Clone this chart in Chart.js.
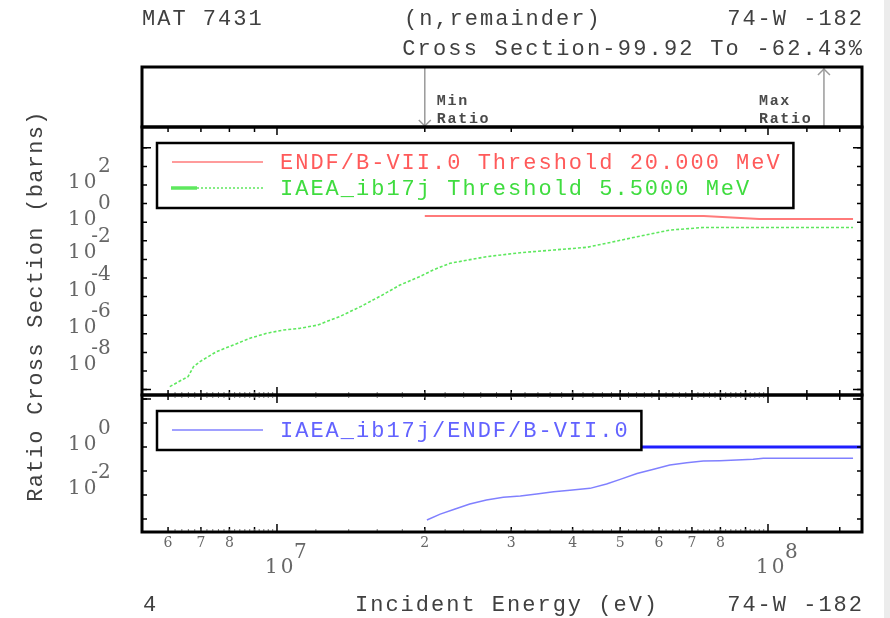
<!DOCTYPE html>
<html>
<head>
<meta charset="utf-8">
<title>74-W-182 (n,remainder)</title>
<script src="https://cdn.jsdelivr.net/npm/chart.js@4.4.1/dist/chart.umd.min.js"></script>
<style>
html, body { margin: 0; padding: 0; background: #fff; }
#wrap { position: relative; width: 890px; height: 618px; overflow: hidden; }
#wrap canvas { position: absolute; left: 0; top: 0; }
#edge { position: absolute; left: 884px; top: 0; width: 6px; height: 618px; background: #ececec; }
</style>
</head>
<body>
<div id="wrap">
  <canvas id="boxChart" width="890" height="618"></canvas>
  <canvas id="xsChart" width="890" height="618"></canvas>
  <canvas id="ratioChart" width="890" height="618"></canvas>
  <div id="edge"></div>
</div>
<script>
// Data (energies in eV, cross sections in barns)
const endfE  = [2.0e7, 7.4e7, 9.6e7, 1.49e8];
const endfXs = [2.15, 2.15, 1.5, 1.5];

const iaeaE  = [6.05e6, 6.40e6, 6.59e6, 6.76e6, 6.97e6, 7.53e6, 8.15e6, 8.81e6, 9.53e6,
                1.03e7, 1.11e7, 1.21e7, 1.26e7, 1.34e7, 1.48e7, 1.64e7, 1.78e7, 1.95e7,
                2.08e7, 2.25e7, 2.67e7, 3.13e7, 3.66e7, 4.28e7, 4.69e7, 5.41e7, 6.31e7,
                7.38e7, 1.49e8];
const iaeaXs = [1.45e-9, 3.3e-9, 5.0e-9, 1.7e-8, 3.2e-8, 1.1e-7, 2.5e-7, 5.8e-7, 1.07e-6,
                1.6e-6, 1.95e-6, 2.95e-6, 4.5e-6, 8.3e-6, 2.9e-5, 1.23e-4, 4.2e-4, 1.17e-3,
                2.7e-3, 6.2e-3, 1.4e-2, 2.3e-2, 3.2e-2, 4.5e-2, 7.4e-2, 0.166, 0.38,
                0.52, 0.52];

const ratioE = [2.02e7, 2.15e7, 2.29e7, 2.47e7, 2.67e7, 2.89e7, 3.13e7, 3.38e7, 3.66e7,
                3.95e7, 4.34e7, 4.69e7, 5.0e7, 5.41e7, 5.85e7, 6.31e7, 6.83e7, 7.38e7,
                7.98e7, 9.33e7, 9.78e7, 1.49e8];
const ratioV = [9.1e-4, 1.6e-3, 2.5e-3, 4.2e-3, 6.2e-3, 8.0e-3, 9.1e-3, 1.1e-2, 1.38e-2,
                1.6e-2, 1.9e-2, 2.9e-2, 4.5e-2, 7.9e-2, 0.12, 0.178, 0.22, 0.26,
                0.27, 0.31, 0.34, 0.34];

const unityE = [2.0e7, 1.554e8];
const unityV = [1, 1];

const minRatioE = 2.0e7;
const maxRatioE = 1.3e8;

const xsNames = ['ENDF/B-VII.0 Threshold 20.000 MeV', 'IAEA_ib17j Threshold 5.5000 MeV'];
const ratioNames = ['IAEA_ib17j/ENDF/B-VII.0'];

// Axes
const xMin = 5.31e6, xMax = 1.554e8;
const xsMin = 5.13e-10, xsMax = 1.318e5;
const ratioMin = 2.88e-4, ratioMax = 147.9;

const xMajor = [1e7, 1e8];
const xMinor = [6e6, 7e6, 8e6, 9e6, 2e7, 3e7, 4e7, 5e7, 6e7, 7e7, 8e7, 9e7, 1.2e8, 1.4e8];
const xDigitVals = [6e6, 7e6, 8e6, 2e7, 3e7, 4e7, 5e7, 6e7, 7e7, 8e7];
const xDigitText = ['6', '7', '8', '2', '3', '4', '5', '6', '7', '8'];
const xDecadeVals = [1e7, 1e8];
const xDecadeExp = ['7', '8'];

const xsDecades = [-9, -8, -7, -6, -5, -4, -3, -2, -1, 0, 1, 2, 3, 4];
const xsMajorExp = [4, -9];
const xsLabelExp = [2, 0, -2, -4, -6, -8];
const ratioDecades = [-3, -2, -1, 0, 1, 2];
const ratioMajorExp = [2];
const ratioLabelExp = [0, -2];

// small grid ticks along the energy axis
const xDense = [];
for (let e = 6.2e6; e < 9.9e6; e += 2e5) xDense.push(e);
for (let e = 1.2e7; e < 9.9e7; e += 2e6) xDense.push(e);

// Styling
const MONO = '"Liberation Mono", "DejaVu Sans Mono", monospace';
const NUMF = '"DejaVu Serif", "Liberation Serif", serif';
const CH = 15.2;
const RED = '#ff7a7a', RED_TXT = '#ff5a5a';
const GREEN = '#5ee85e', GREEN_TXT = '#3fdc3f';
const BLUE = '#8080ff', BLUE_TXT = '#6262ff', BLUE_DARK = '#1f1fff';

const pts = (xs, ys) => xs.map((x, i) => ({ x, y: ys[i] }));

// Helpers
const text = (ctx, s, x, y, o = {}) => {
    const ls = o.ls != null ? o.ls : 2;
    ctx.save();
    ctx.font = o.font || ('22px ' + MONO);
    ctx.fillStyle = o.color || '#404040';
    ctx.letterSpacing = ls + 'px';
    ctx.textAlign = o.align || 'left';
    ctx.textBaseline = 'alphabetic';
    ctx.fillText(s, x + (o.align === 'right' ? ls : 0), y);
    ctx.restore();
};

const tickX = (ctx, sx, vals, yEdge, dir, len) => {
    vals.forEach(v => {
        const px = sx.getPixelForValue(v);
        ctx.beginPath();
        ctx.moveTo(px, yEdge);
        ctx.lineTo(px, yEdge + dir * len);
        ctx.stroke();
    });
};

const tickY = (ctx, sy, exps, a, len) => {
    exps.forEach(p => {
        const py = sy.getPixelForValue(Math.pow(10, p));
        ctx.beginPath();
        ctx.moveTo(a.left, py); ctx.lineTo(a.left + len, py);
        ctx.moveTo(a.right, py); ctx.lineTo(a.right - len, py);
        ctx.stroke();
    });
};

const powLabelY = (ctx, sy, exp) => {
    const py = sy.getPixelForValue(Math.pow(10, exp));
    const base = py - (exp < 0 ? 8 : 4) + 7;
    ctx.save();
    ctx.font = '20px ' + NUMF;
    ctx.fillStyle = '#666';
    ctx.textBaseline = 'alphabetic';
    ctx.letterSpacing = '3px';
    ctx.textAlign = 'left';
    ctx.fillText('10', 68, base);
    ctx.letterSpacing = '0px';
    ctx.fillText(String(Math.abs(exp)), 98, base - 16);
    if (exp < 0) {
        ctx.textAlign = 'right';
        ctx.fillText('-', 98, base - 16);
    }
    ctx.restore();
};

const frame = (ctx, a) => {
    ctx.save();
    ctx.strokeStyle = '#000';
    ctx.lineWidth = 3;
    ctx.strokeRect(a.left, a.top, a.right - a.left, a.bottom - a.top);
    ctx.restore();
};

const drawLegend = (ctx, a, rows, rowGap, padTop, padBottom) => {
    const left = a.left + 15, top = a.top + 16;
    const textX = left + 123;
    const maxLen = Math.max(...rows.map(r => r.label.length));
    const right = textX + (maxLen - 1) * CH + 11 + 16;
    const h = padTop + (rows.length - 1) * rowGap + padBottom;
    ctx.save();
    ctx.fillStyle = '#fff';
    ctx.fillRect(left, top, right - left, h);
    rows.forEach((r, i) => {
        const yy = top + padTop + i * rowGap;
        ctx.strokeStyle = r.color;
        if (r.thick) {
            ctx.lineWidth = 3.5;
            ctx.setLineDash([]);
            ctx.beginPath(); ctx.moveTo(left + 14, yy); ctx.lineTo(left + 40, yy); ctx.stroke();
            ctx.lineWidth = 1.5;
            ctx.setLineDash([2, 2]);
            ctx.beginPath(); ctx.moveTo(left + 40, yy); ctx.lineTo(left + 106, yy); ctx.stroke();
        } else {
            ctx.lineWidth = 1.5;
            ctx.setLineDash([]);
            ctx.beginPath(); ctx.moveTo(left + 15, yy); ctx.lineTo(left + 106, yy); ctx.stroke();
        }
        ctx.setLineDash([]);
        text(ctx, r.label, textX, yy + 7, { color: r.text, ls: 2 });
    });
    ctx.strokeStyle = '#000';
    ctx.lineWidth = 2.5;
    ctx.strokeRect(left, top, right - left, h);
    ctx.restore();
};

const baseOptions = (padding, y) => ({
    responsive: false,
    animation: false,
    events: [],
    layout: { padding },
    plugins: { legend: { display: false }, tooltip: { enabled: false } },
    scales: {
        x: { type: 'logarithmic', min: xMin, max: xMax, display: false },
        y
    }
});

// Top box: energies of minimum and maximum ratio
const arrowPlugin = {
    id: 'arrows',
    afterDatasetsDraw(chart) {
        const { ctx, chartArea: a, scales: { x } } = chart;
        const xa = x.getPixelForValue(minRatioE);
        const xb = x.getPixelForValue(maxRatioE);
        ctx.save();
        ctx.strokeStyle = '#9a9a9a';
        ctx.lineWidth = 1.5;
        ctx.beginPath();
        ctx.moveTo(xa - 6, a.bottom - 7); ctx.lineTo(xa, a.bottom - 1); ctx.lineTo(xa + 6, a.bottom - 7);
        ctx.moveTo(xb - 6, a.top + 8); ctx.lineTo(xb, a.top + 2); ctx.lineTo(xb + 6, a.top + 8);
        ctx.stroke();
        ctx.restore();
        const f = 'bold 15px ' + MONO;
        text(ctx, 'Min', xa + 12, a.top + 38, { font: f, color: '#4a4a4a', ls: 1.7 });
        text(ctx, 'Ratio', xa + 12, a.top + 56, { font: f, color: '#4a4a4a', ls: 1.7 });
        text(ctx, 'Max', xb - 65, a.top + 38, { font: f, color: '#4a4a4a', ls: 1.7 });
        text(ctx, 'Ratio', xb - 65, a.top + 56, { font: f, color: '#4a4a4a', ls: 1.7 });
        frame(ctx, a);
    }
};

new Chart(document.getElementById('boxChart'), {
    type: 'line',
    data: {
        datasets: [
            { data: pts([minRatioE, minRatioE], [1, 0]), borderColor: '#9a9a9a', borderWidth: 1.5, pointRadius: 0 },
            { data: pts([maxRatioE, maxRatioE], [0, 1]), borderColor: '#9a9a9a', borderWidth: 1.5, pointRadius: 0 }
        ]
    },
    options: baseOptions({ left: 142, right: 28, top: 67, bottom: 491 },
        { type: 'linear', min: 0, max: 1, display: false }),
    plugins: [arrowPlugin]
});

// Cross section panel
const xsPlugin = {
    id: 'xsDecor',
    afterDatasetsDraw(chart) {
        const { ctx, chartArea: a, scales: { x, y } } = chart;
        drawLegend(ctx, a, [
            { label: xsNames[0], color: RED, text: RED_TXT },
            { label: xsNames[1], color: GREEN, text: GREEN_TXT, thick: true }
        ], 26, 19, 20);
        ctx.save();
        ctx.strokeStyle = '#000';
        ctx.lineWidth = 1.5;
        tickX(ctx, x, xMinor, a.top, 1, 5);
        tickX(ctx, x, xMajor, a.top, 1, 8);
        tickX(ctx, x, xMinor, a.bottom, -1, 5);
        tickX(ctx, x, xMajor, a.bottom, -1, 8);
        tickY(ctx, y, xsDecades, a, 5);
        tickY(ctx, y, xsMajorExp, a, 9);
        ctx.strokeStyle = '#777';
        ctx.lineWidth = 1;
        tickX(ctx, x, xDense, a.bottom, -1, 3);
        ctx.restore();
        frame(ctx, a);
        xsLabelExp.forEach(p => powLabelY(ctx, y, p));
    }
};

new Chart(document.getElementById('xsChart'), {
    type: 'line',
    data: {
        datasets: [
            { label: xsNames[0], data: pts(endfE, endfXs), borderColor: RED, borderWidth: 2, pointRadius: 0 },
            { label: xsNames[1], data: pts(iaeaE, iaeaXs), borderColor: GREEN, borderWidth: 1.6,
              borderDash: [3, 2], pointRadius: 0 }
        ]
    },
    options: baseOptions({ left: 142, right: 28, top: 127, bottom: 223 },
        { type: 'logarithmic', min: xsMin, max: xsMax, display: false }),
    plugins: [xsPlugin]
});

// Ratio panel + page texts
const ratioPlugin = {
    id: 'ratioDecor',
    afterDatasetsDraw(chart) {
        const { ctx, chartArea: a, scales: { x, y } } = chart;
        drawLegend(ctx, a, [{ label: ratioNames[0], color: BLUE, text: BLUE_TXT }], 0, 19, 20);
        ctx.save();
        ctx.strokeStyle = '#000';
        ctx.lineWidth = 1.5;
        tickX(ctx, x, xMinor, a.top, 1, 5);
        tickX(ctx, x, xMajor, a.top, 1, 8);
        tickX(ctx, x, xMinor, a.bottom, -1, 5);
        tickX(ctx, x, xMajor, a.bottom, -1, 8);
        tickY(ctx, y, ratioDecades, a, 5);
        tickY(ctx, y, ratioMajorExp, a, 9);
        ctx.strokeStyle = '#777';
        ctx.lineWidth = 1;
        tickX(ctx, x, xDense, a.top, 1, 3);
        tickX(ctx, x, xDense, a.bottom, -1, 3);
        ctx.restore();
        frame(ctx, a);
        ratioLabelExp.forEach(p => powLabelY(ctx, y, p));

        // energy axis labels
        ctx.save();
        ctx.fillStyle = '#666';
        ctx.textBaseline = 'alphabetic';
        ctx.font = '14px ' + NUMF;
        ctx.textAlign = 'center';
        xDigitVals.forEach((v, i) => ctx.fillText(xDigitText[i], x.getPixelForValue(v), a.bottom + 15));
        ctx.font = '20px ' + NUMF;
        ctx.textAlign = 'left';
        xDecadeVals.forEach((v, i) => {
            const px = x.getPixelForValue(v);
            ctx.letterSpacing = '3px';
            ctx.fillText('10', px - 12, a.bottom + 41);
            ctx.letterSpacing = '0px';
            ctx.fillText(xDecadeExp[i], px + 17, a.bottom + 26);
        });
        ctx.restore();
    },
    afterDraw(chart) {
        const ctx = chart.ctx;
        text(ctx, 'MAT 7431', 142, 25);
        text(ctx, '(n,remainder)', 404, 25);
        text(ctx, '74-W -182', 862, 25, { align: 'right' });
        text(ctx, 'Cross Section-99.92 To -62.43%', 862, 55, { align: 'right', ls: 2.2 });
        text(ctx, '4', 143, 611);
        text(ctx, 'Incident Energy (eV)', 355, 611);
        text(ctx, '74-W -182', 862, 611, { align: 'right' });
        ctx.save();
        ctx.translate(42, 306);
        ctx.rotate(-Math.PI / 2);
        text(ctx, 'Ratio Cross Section (barns)', 0, 0, { align: 'center', ls: 1.3 });
        ctx.restore();
    }
};

new Chart(document.getElementById('ratioChart'), {
    type: 'line',
    data: {
        datasets: [
            { label: 'unity', data: pts(unityE, unityV), borderColor: BLUE_DARK, borderWidth: 3, pointRadius: 0 },
            { label: ratioNames[0], data: pts(ratioE, ratioV), borderColor: BLUE, borderWidth: 1.5, pointRadius: 0 }
        ]
    },
    options: baseOptions({ left: 142, right: 28, top: 395, bottom: 86 },
        { type: 'logarithmic', min: ratioMin, max: ratioMax, display: false }),
    plugins: [ratioPlugin]
});
</script>
</body>
</html>
